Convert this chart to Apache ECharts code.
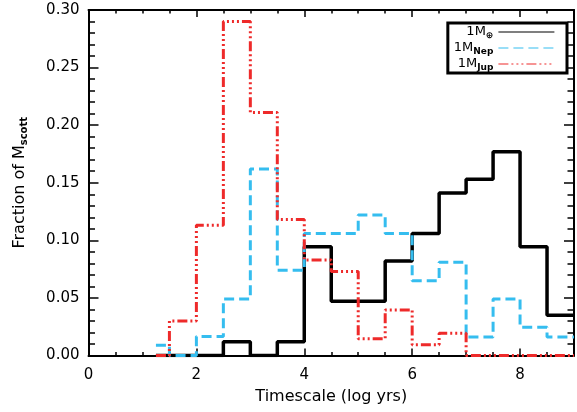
<!DOCTYPE html>
<html><head><meta charset="utf-8">
<script src="https://cdn.jsdelivr.net/npm/echarts@6/dist/echarts.min.js"></script>
<style>html,body{margin:0;padding:0;background:#fff}#c{width:577px;height:412px}</style>
</head><body><div id="c"></div>
<script>
// Histogram bin centres (log yrs), bin width 0.5
const binCenters = [1.25,1.75,2.25,2.75,3.25,3.75,4.25,4.75,5.25,5.75,6.25,6.75,7.25,7.75,8.25,8.75];
const earthVals   = [0,0,0,0.012,0,0.012,0.0945,0.047,0.047,0.082,0.106,0.141,0.153,0.177,0.0945,0.035];
const neptuneVals = [0.009,0,0.0165,0.049,0.162,0.074,0.106,0.106,0.122,0.106,0.065,0.081,0.016,0.049,0.0245,0.016];
const jupiterVals = [0,0.03,0.113,0.29,0.211,0.118,0.083,0.073,0.0145,0.0396,0.0093,0.0194,0,0,0,0];
const seriesNames = ['1M⊕','1MNep','1MJup'];
const legendLabels = ['1M{sub|⊕}','1M{sub|Nep}','1M{sub|Jup}'];
const xMin = 0, xMax = 9, yMin = 0, yMax = 0.30;

const FONT = 'DejaVu Sans';
function toPts(vals){
  const pts = binCenters.map((x,i)=>[x, vals[i]]);
  pts.push([xMax, vals[vals.length-1]]);
  return pts;
}
const lineC = {color:'#000', width:2};
function xAx(pos, interval, len, labels, line, extra){
  return Object.assign({
    type:'value', position:pos, min:xMin, max:xMax, interval:interval,
    axisLine:{show:line, onZero:false, lineStyle:lineC},
    axisTick:{show:true, inside:true, length:len, lineStyle:{color:'#000', width:1.5}},
    axisLabel:{show:labels, margin:12, color:'#000', fontFamily:FONT, fontSize:15,
      formatter: v => (v===xMax ? '' : String(v))},
    splitLine:{show:false}
  }, extra||{});
}
function yAx(pos, labels, extra){
  return Object.assign({
    type:'value', position:pos, min:yMin, max:yMax, interval:0.05,
    axisLine:{show:true, onZero:false, lineStyle:lineC},
    axisTick:{show:true, inside:true, length:10, lineStyle:{color:'#000', width:1.5}},
    minorTick:{show:true, splitNumber:5, length:6.5, lineStyle:{color:'#000', width:1.5}},
    axisLabel:{show:labels, margin:9, color:'#000', fontFamily:FONT, fontSize:15,
      formatter: v => v.toFixed(2)},
    splitLine:{show:false}, minorSplitLine:{show:false}
  }, extra||{});
}
const chart = echarts.init(document.getElementById('c'), null, {renderer:'canvas'});
chart.setOption({
  animation:false,
  backgroundColor:'#fff',
  grid:{left:88.5, right:1.5, top:10, bottom:56.5, containLabel:false},
  xAxis:[
    xAx('bottom', 2, 7, true, true, {name:'Timescale (log yrs)', nameLocation:'middle', nameGap:33,
      nameTextStyle:{color:'#000', fontFamily:FONT, fontSize:16}}),
    xAx('bottom', 0.5, 3.5, false, false),
    xAx('top', 2, 7, false, true),
    xAx('top', 0.5, 3.5, false, false)
  ],
  yAxis:[
    yAx('left', true, {name:'Fraction of M{sub|scott}', nameLocation:'middle', nameGap:59, nameRotate:90,
      nameTextStyle:{color:'#000', fontFamily:FONT, fontSize:16, lineHeight:20,
        rich:{sub:{fontFamily:FONT, fontSize:10, fontWeight:'bold', lineHeight:20, verticalAlign:'bottom', color:'#000'}}}}),
    yAx('right', false)
  ],
  legend:{
    orient:'vertical', right:10, top:23, align:'right',
    itemWidth:56, itemHeight:10, itemGap:0,
    backgroundColor:'#fff', borderColor:'#000', borderWidth:3, borderRadius:0,
    padding:[1,12,1,6],
    data:seriesNames,
    formatter: name => legendLabels[seriesNames.indexOf(name)],
    textStyle:{fontFamily:FONT, fontSize:13, color:'#000', lineHeight:15,
      rich:{sub:{fontFamily:FONT, fontSize:9, fontWeight:'bold', lineHeight:16, verticalAlign:'bottom', color:'#000'}}},
    lineStyle:{width:1.2},
    itemStyle:{opacity:0, color:'transparent', borderWidth:0}
  },
  series:[
    {name:seriesNames[0], type:'line', step:'middle', symbol:'none', xAxisIndex:0, yAxisIndex:0,
      data:toPts(earthVals), lineStyle:{color:'#000', width:3.5}, itemStyle:{color:'#000'}, z:2},
    {name:seriesNames[1], type:'line', step:'middle', symbol:'none', xAxisIndex:0, yAxisIndex:0,
      data:toPts(neptuneVals), lineStyle:{color:'#35bdef', width:3, type:[10,5]}, itemStyle:{color:'#35bdef'}, z:3},
    {name:seriesNames[2], type:'line', step:'middle', symbol:'none', xAxisIndex:0, yAxisIndex:0,
      data:toPts(jupiterVals), lineStyle:{color:'#ee2a2a', width:3, type:[10,3,2,3,2,3,2,3]}, itemStyle:{color:'#ee2a2a'}, z:4}
  ]
});
</script></body></html>
